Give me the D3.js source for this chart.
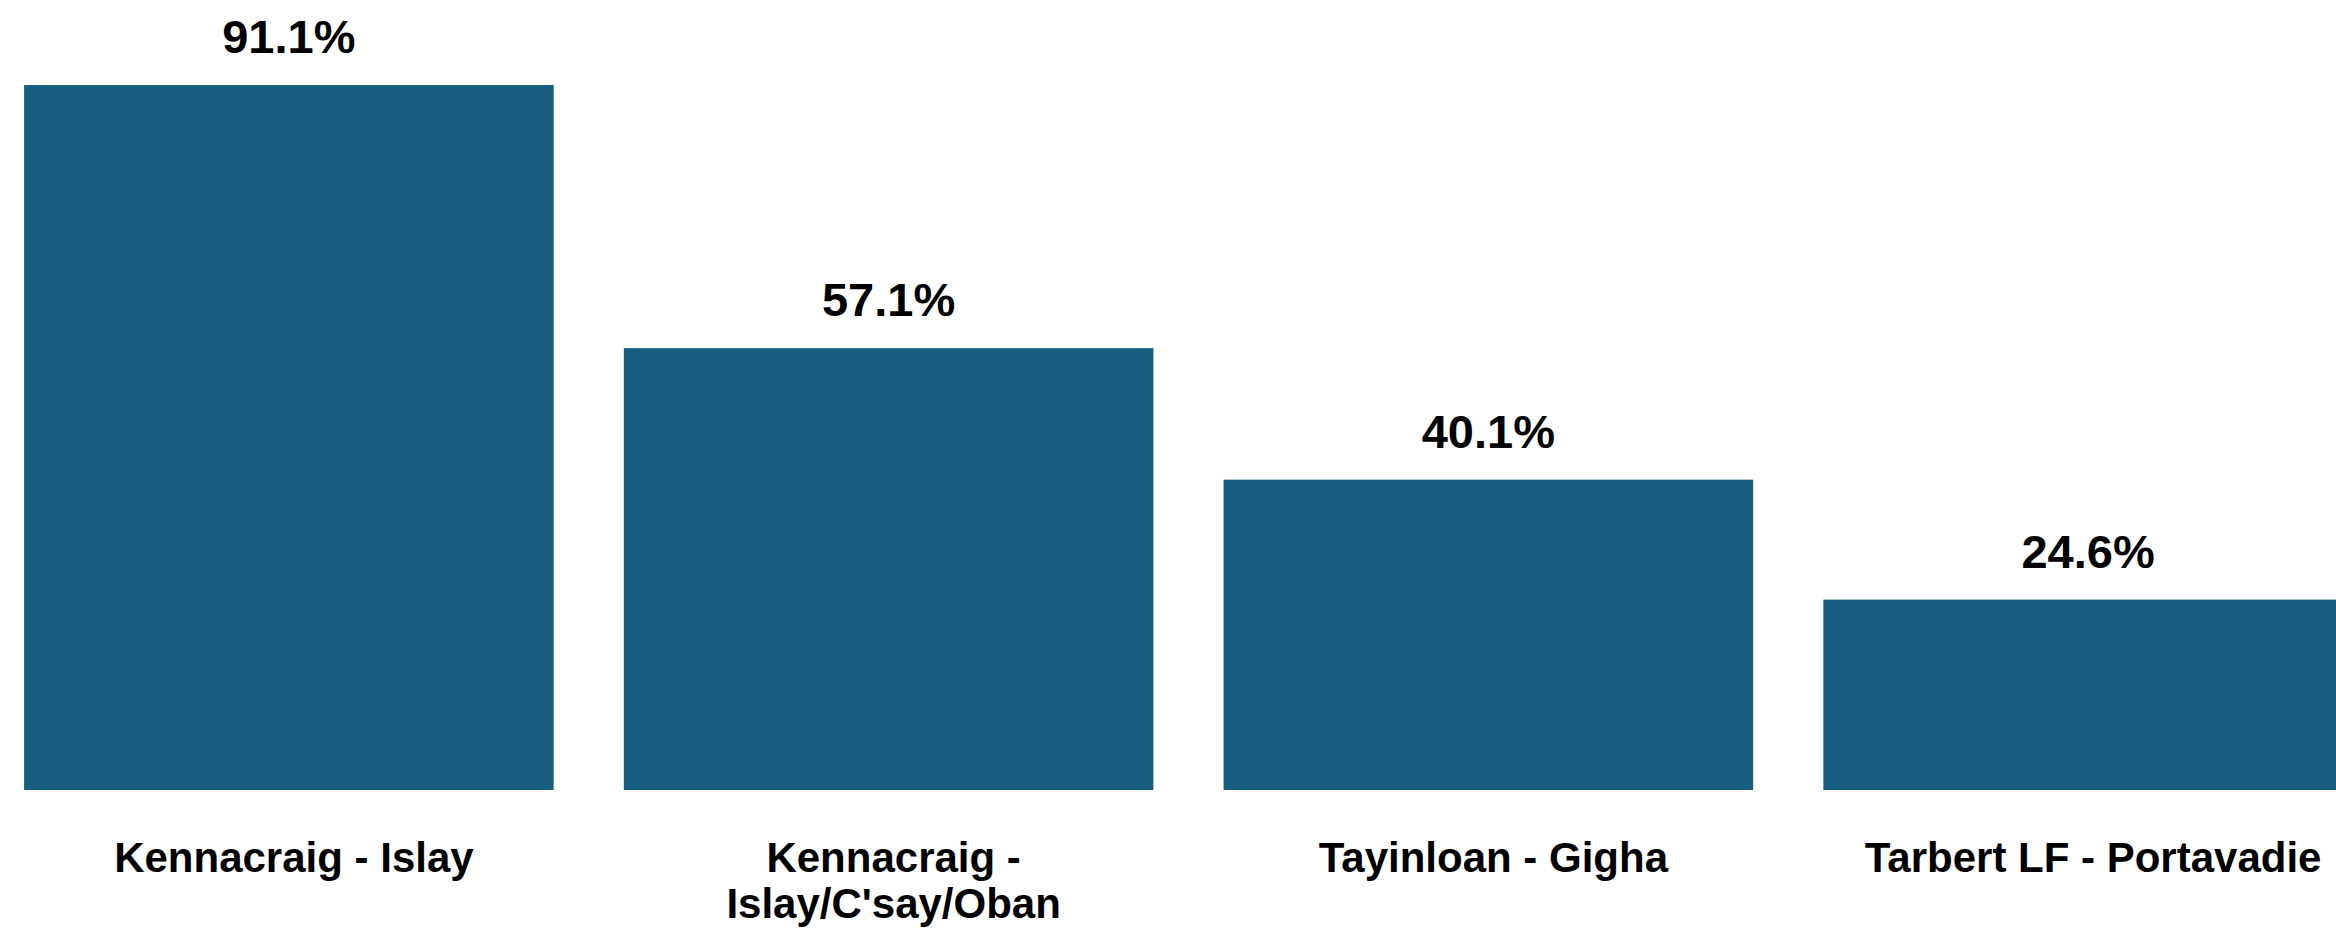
<!DOCTYPE html>
<html>
<head>
<meta charset="utf-8">
<script src="https://cdn.jsdelivr.net/npm/d3@7"></script>
<style>
  html, body { margin: 0; padding: 0; background: #ffffff; }
  svg { display: block; }
  text { font-family: "Liberation Sans", Arial, Helvetica, sans-serif; font-weight: bold; fill: #000; }
</style>
</head>
<body>
<svg id="chart" width="2336" height="934"></svg>
<script>
// Ferry route share values (percent)
const routes = [
  "Kennacraig - Islay",
  "Kennacraig - Islay/C'say/Oban",
  "Tayinloan - Gigha",
  "Tarbert LF - Portavadie"
];
const shares = [91.1, 57.1, 40.1, 24.6];

const W = 2336, H = 934;
const baseline = 790, plotTop = 85;

const svg = d3.select("#chart");

const x = d3.scaleBand()
  .domain(routes)
  .range([-11, 2388])
  .paddingInner(0.117)
  .paddingOuter(0.0585);

const y = d3.scaleLinear()
  .domain([0, d3.max(shares)])
  .range([baseline, plotTop]);

const data = routes.map((r, i) => ({ route: r, value: shares[i] }));

// Bars
svg.append("g")
  .selectAll("rect")
  .data(data)
  .join("rect")
  .attr("x", d => x(d.route))
  .attr("y", d => y(d.value))
  .attr("width", x.bandwidth())
  .attr("height", d => y(0) - y(d.value))
  .attr("fill", "#195e7e");

// Value labels above each bar
svg.append("g")
  .selectAll("text")
  .data(data)
  .join("text")
  .attr("x", d => x(d.route) + x.bandwidth() / 2)
  .attr("y", d => y(d.value) - 32)
  .attr("text-anchor", "middle")
  .style("font-size", "47px")
  .text(d => d.value.toFixed(1) + "%");

// Category axis (no line, no ticks), labels wrapped to the band width
const axis = svg.append("g")
  .attr("transform", `translate(5,${baseline})`)
  .call(d3.axisBottom(x).tickSize(0).tickPadding(0));
axis.select(".domain").remove();
axis.selectAll(".tick text")
  .style("font-size", "42px")
  .style("font-family", '"Liberation Sans", Arial, Helvetica, sans-serif')
  .style("font-weight", "bold")
  .attr("fill", "#000")
  .call(wrap, x.bandwidth());

function wrap(sel, width) {
  sel.each(function() {
    const t = d3.select(this);
    const words = t.text().split(/\s+/);
    t.text(null).attr("y", null).attr("dy", null);
    const lineH = 46;
    const y0 = 82;
    let line = [];
    let n = 0;
    let tspan = t.append("tspan").attr("x", 0).attr("y", y0);
    for (const w of words) {
      line.push(w);
      tspan.text(line.join(" "));
      if (tspan.node().getComputedTextLength() > width - 20 && line.length > 1) {
        line.pop();
        tspan.text(line.join(" "));
        line = [w];
        n++;
        tspan = t.append("tspan").attr("x", 0).attr("y", y0 + n * lineH).text(w);
      }
    }
  });
}
</script>
</body>
</html>
